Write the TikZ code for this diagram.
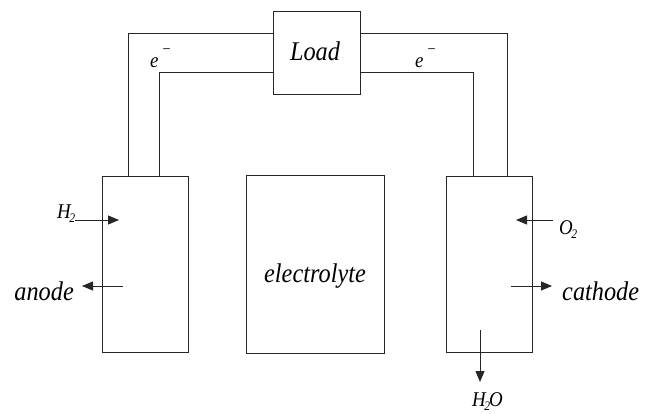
\documentclass[tikz,border=0pt]{standalone}
\usepackage{fontspec}
\setmainfont{Liberation Serif}
\newfontfamily\labfont[FakeStretch=0.9]{Liberation Serif}
\newcommand{\chemsub}[1]{\kern-1.5pt\raisebox{-4pt}{\fontsize{13}{13}\selectfont #1}}
\newcommand{\elec}{e\kern3pt\raisebox{13pt}{\fontsize{16}{16}\selectfont −}}
\usetikzlibrary{positioning, arrows.meta, calc}

\begin{document}
\begin{tikzpicture}[x=1pt, y=-1pt, >={Triangle[length=11pt, width=9pt]},
  every node/.style={font=\labfont\itshape\fontsize{27}{30}\selectfont, inner sep=0pt},
  small/.style={font=\labfont\itshape\fontsize{21}{23}\selectfont},
  box/.style={draw=black!85, line width=0.9pt},
  wire/.style={draw=black!85, line width=0.9pt}]
\useasboundingbox (0,0) rectangle (652,413);
% cell parts
\node[box, minimum width=87pt, minimum height=83pt] (load) at (316.5,52.5) {};
\node[anchor=base] (loadtext) at (315,60) {Load};
\node[box, minimum width=86pt, minimum height=176pt] (anode) at (145,264) {};
\node[box, minimum width=138pt, minimum height=178pt] (electrolyte) at (315,264) {};
\node[anchor=base] (electext) at (315,282) {electrolyte};
\node[box, minimum width=86pt, minimum height=176pt] (cathode) at (489,264) {};
% external circuit
\draw[wire] ([xshift=27pt]anode.north west) |- ([yshift=19.5pt]load.west);
\draw[wire] ([xshift=58pt]anode.north west) |- ([yshift=-19.5pt]load.west);
\draw[wire] ([yshift=19.5pt]load.east) -| ([xshift=-25pt]cathode.north east);
\draw[wire] ([yshift=-19.5pt]load.east) -| ([xshift=-59pt]cathode.north east);
\node[small, anchor=base west] (eleft) at (150,67) {\elec};
\node[small, anchor=base west] (eright) at (415,67) {\elec};
% gases and products
\node[small, anchor=base west] (h2) at (57,218) {H\chemsub{2}};
\coordinate (h2end) at (119,220);
\draw[wire, ->] (h2.east |- h2end) -- (h2end);
\coordinate (anodestart) at (123,286);
\node[anchor=base east] (anodelab) at (74,300) {anode};
\draw[wire, ->] (anodestart) -- (anodestart -| 82,0);
\node[small, anchor=base west] (o2) at (559,234) {O\chemsub{2}};
\coordinate (o2end) at (516,220);
\draw[wire, ->] (553,220) -- (o2end);
\coordinate (cathstart) at (511,286);
\node[anchor=base west] (cathlab) at (562,300) {cathode};
\draw[wire, ->] (cathstart) -- (cathstart -| 552,0);
\node[small, anchor=base west] (h2o) at (472,406) {H\chemsub{2}\kern-1pt O};
\coordinate (h2ostart) at (480,330);
\draw[wire, ->] (h2ostart) -- (h2ostart |- 0,382);
\end{tikzpicture}
\end{document}
